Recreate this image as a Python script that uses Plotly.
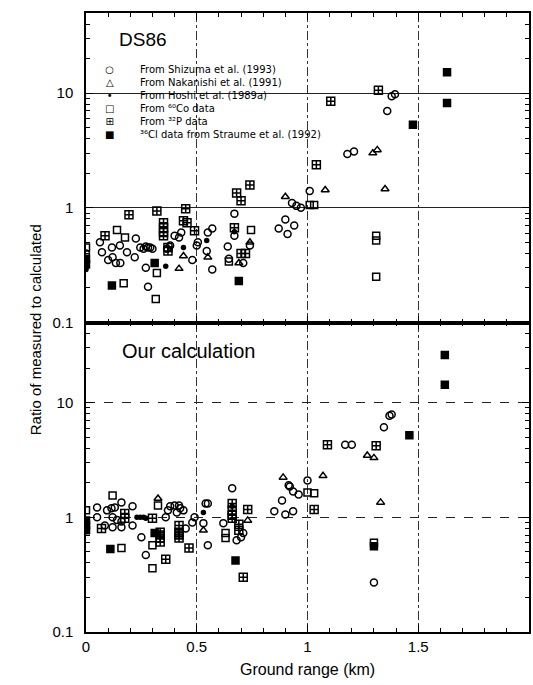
import math
import plotly.graph_objects as go
from plotly.subplots import make_subplots

# ---------------- DATA ----------------
# Top panel: DS86  (x = ground range km, y = ratio measured/calculated)
ds_shiz_x = [0.0, 0.063, 0.072, 0.10, 0.117, 0.12, 0.135, 0.153, 0.155, 0.185, 0.22, 0.225, 0.245, 0.26,
             0.27, 0.28, 0.29, 0.30, 0.27, 0.28, 0.366, 0.38, 0.40, 0.42, 0.43, 0.48, 0.50, 0.505,
             0.57, 0.55, 0.545, 0.57, 0.64, 0.645, 0.67, 0.67, 0.74, 0.71, 0.90, 0.87, 0.94, 0.91,
             0.93, 0.95, 0.97, 1.01, 1.18, 1.21, 1.36, 1.38, 1.395]
ds_shiz_y = [0.40, 0.50, 0.41, 0.35, 0.45, 0.37, 0.33, 0.47, 0.33, 0.41, 0.37, 0.54, 0.45, 0.44,
             0.46, 0.45, 0.45, 0.44, 0.30, 0.205, 0.44, 0.47, 0.57, 0.55, 0.61, 0.35, 0.47, 0.50,
             0.66, 0.61, 0.42, 0.29, 0.46, 0.36, 0.89, 0.57, 0.47, 0.33, 0.79, 0.66, 0.70, 0.59,
             1.10, 1.04, 1.00, 1.40, 2.95, 3.10, 7.0, 9.4, 9.8]
ds_naka_x = [0.42, 0.44, 0.55, 0.69, 0.74, 0.90, 1.08, 1.295, 1.315, 1.35]
ds_naka_y = [0.295, 0.38, 0.37, 0.33, 0.50, 1.25, 1.43, 3.0, 3.2, 1.46]
ds_hoshi_x = [0.0, 0.36, 0.44, 0.545, 0.67]
ds_hoshi_y = [0.29, 0.31, 0.45, 0.52, 0.62]
ds_co_x = [0.0, 0.14, 0.176, 0.17, 0.315, 0.32, 0.645, 0.745, 1.01, 1.03, 1.31, 1.31, 1.31]
ds_co_y = [0.45, 0.64, 0.55, 0.22, 0.16, 0.27, 0.34, 0.64, 1.06, 1.06, 0.57, 0.52, 0.25]
ds_p_x = [0.086, 0.194, 0.32, 0.45, 0.35, 0.35, 0.35, 0.35, 0.44, 0.456, 0.49, 0.37, 0.37,
          0.68, 0.70, 0.74, 0.67, 0.70, 0.72, 1.04, 1.105, 1.32]
ds_p_y = [0.57, 0.87, 0.94, 0.98, 0.74, 0.67, 0.61, 0.57, 0.77, 0.74, 0.63, 0.45, 0.42,
          1.35, 1.15, 1.58, 0.67, 0.40, 0.40, 2.37, 8.5, 10.6]
ds_cl_x = [0.0, 0.0, 0.117, 0.31, 0.69, 1.476, 1.63, 1.63]
ds_cl_y = [0.36, 0.32, 0.21, 0.33, 0.23, 5.3, 15.2, 8.2]

# Bottom panel: our calculation
oc_shiz_x = [0.05, 0.05, 0.095, 0.115, 0.13, 0.16, 0.12, 0.14, 0.16, 0.085, 0.12, 0.16, 0.21, 0.21,
             0.36, 0.37, 0.38, 0.40, 0.42, 0.44, 0.25, 0.27, 0.45, 0.48, 0.49, 0.41, 0.425, 0.54,
             0.55, 0.53, 0.55, 0.62, 0.66, 0.68, 0.71, 0.70, 0.85, 0.90, 0.935, 0.885, 0.915, 0.935,
             0.96, 0.92, 1.0, 1.17, 1.20, 1.345, 1.37, 1.38, 1.30]
oc_shiz_y = [1.22, 1.0, 1.15, 1.20, 1.22, 1.35, 1.0, 0.95, 0.92, 0.85, 0.82, 0.82, 1.25, 0.85,
             1.0, 1.15, 1.25, 1.27, 1.27, 1.15, 0.67, 0.47, 0.80, 0.90, 1.0, 1.10, 1.20, 1.32,
             1.32, 0.89, 0.57, 0.89, 1.79, 0.63, 0.73, 0.67, 1.13, 1.06, 1.13, 1.40, 1.90, 1.68,
             1.58, 1.86, 2.10, 4.3, 4.3, 6.1, 7.7, 7.9, 0.27]
oc_naka_x = [0.325, 0.53, 0.73, 0.89, 1.07, 1.27, 1.30, 1.33]
oc_naka_y = [1.46, 0.77, 0.94, 2.23, 2.30, 3.46, 3.30, 1.35]
oc_hoshi_x = [0.23, 0.245, 0.26, 0.27, 0.53, 0.66]
oc_hoshi_y = [1.0, 1.0, 1.0, 0.98, 1.10, 1.25]
oc_co_x = [0.0, 0.12, 0.325, 0.30, 0.30, 0.16, 0.63, 0.63, 1.0, 1.03, 1.30]
oc_co_y = [1.15, 1.55, 1.27, 0.57, 0.36, 0.54, 0.73, 0.66, 1.65, 1.62, 0.60]
oc_p_x = [0.07, 0.175, 0.175, 0.30, 0.335, 0.335, 0.335, 0.335, 0.36, 0.42, 0.42, 0.42, 0.42,
          0.465, 0.66, 0.66, 0.66, 0.66, 0.73, 0.69, 0.69, 0.71, 1.03, 1.09, 1.31]
oc_p_y = [0.80, 1.08, 0.98, 0.98, 0.74, 0.70, 0.66, 0.61, 0.43, 0.85, 0.74, 0.70, 0.66,
          0.54, 1.32, 1.15, 1.04, 0.98, 1.17, 0.87, 0.77, 0.30, 1.17, 4.3, 4.2]
oc_cl_x = [0.0, 0.0, 0.0, 0.11, 0.31, 0.675, 1.30, 1.46, 1.62, 1.62]
oc_cl_y = [0.94, 0.85, 0.77, 0.53, 0.73, 0.42, 0.56, 5.2, 26.1, 14.3]

legend_labels = ["From Shizuma et al. (1993)", "From Nakanishi et al. (1991)",
                 "From Hoshi et al. (1989a)", "From \u2076\u2070Co data", "From \u00b3\u00b2P data",
                 "\u00b3\u2076Cl data from Straume et al. (1992)"]
legend_glyphs = ["\u25cb", "\u25b3", "\u2022", "\u25a1", "\u229e", "\u25a0"]
x_ticks = [0, 0.5, 1, 1.5, 2]
x_ticktext = ["0", "0.5", "1", "1.5", "2"]
y_ticks = [0.1, 1, 10]
y_ticktext = ["0.1", "1", "10"]

# ---------------- FIGURE ----------------
FONT = "Liberation Sans, Arial, sans-serif"
fig = make_subplots(rows=2, cols=1, shared_xaxes=True, vertical_spacing=0)

symbols = ["circle-open", "triangle-up-open", "circle", "square-open", "square-cross-open", "square"]
sizes = [7, 7, 4, 7, 8, 7]
panels = [
    [(ds_shiz_x, ds_shiz_y), (ds_naka_x, ds_naka_y), (ds_hoshi_x, ds_hoshi_y),
     (ds_co_x, ds_co_y), (ds_p_x, ds_p_y), (ds_cl_x, ds_cl_y)],
    [(oc_shiz_x, oc_shiz_y), (oc_naka_x, oc_naka_y), (oc_hoshi_x, oc_hoshi_y),
     (oc_co_x, oc_co_y), (oc_p_x, oc_p_y), (oc_cl_x, oc_cl_y)],
]
for r, series in enumerate(panels, start=1):
    for i, (xs, ys) in enumerate(series):
        fig.add_trace(go.Scatter(
            x=xs, y=ys, mode="markers", name=legend_labels[i], showlegend=False,
            marker=dict(symbol=symbols[i], size=sizes[i], color="black",
                        line=dict(color="black", width=1.5)),
        ), row=r, col=1)

x_minor = [round(0.1 * k, 1) for k in range(1, 20) if k % 5 != 0]
y_minor = [m * 10 ** e for e in (-1, 0, 1) for m in range(2, 10) if m * 10 ** e <= 50]

for r in (1, 2):
    fig.update_xaxes(
        range=[0, 2], tickmode="array", tickvals=x_ticks, ticktext=x_ticktext,
        ticks="inside", ticklen=7, tickwidth=1, tickcolor="black",
        showline=True, linecolor="black", linewidth=1.5, mirror="allticks",
        showgrid=True, gridcolor="#333", gridwidth=1, griddash="dashdot",
        zeroline=False, showticklabels=(r == 2),
        tickfont=dict(family=FONT, size=15, color="black"),
        minor=dict(tickmode="array", tickvals=x_minor, ticks="inside", ticklen=4,
                   tickcolor="black", showgrid=False),
        row=r, col=1)
    fig.update_yaxes(
        type="log", range=[-1, math.log10(50)], tickmode="array",
        tickvals=y_ticks, ticktext=y_ticktext,
        ticks="inside", ticklen=7, tickwidth=1, tickcolor="black",
        showline=True, linecolor="black", linewidth=1.5, mirror="allticks",
        showgrid=True, gridcolor="#222", gridwidth=1.2,
        griddash="solid" if r == 1 else "dash",
        zeroline=False, ticklabelstandoff=8,
        tickfont=dict(family=FONT, size=15, color="black"),
        minor=dict(tickmode="array", tickvals=y_minor, ticks="inside", ticklen=4,
                   tickcolor="black", showgrid=False),
        row=r, col=1)

W, H = 533, 685
L, R, T, B = 86, 2, 13, 53
pw, ph = W - L - R, H - T - B


def px(xp):
    return (xp - L) / pw


def py(yp):
    return (H - B - yp) / ph


ann = []
ann.append(dict(text="DS86", x=px(117), y=py(40), xref="paper", yref="paper",
                xanchor="left", yanchor="middle", showarrow=False,
                font=dict(family=FONT, size=19, color="black")))
ann.append(dict(text="Our calculation", x=px(120), y=py(351), xref="paper", yref="paper",
                xanchor="left", yanchor="middle", showarrow=False,
                font=dict(family=FONT, size=20, color="black")))
# legend block (two multi-line annotations: glyph column and label column)
ann.append(dict(text="<br>".join(legend_glyphs), x=px(110), y=py(62), xref="paper", yref="paper",
                xanchor="center", yanchor="top", align="center", showarrow=False,
                font=dict(family="DejaVu Sans", size=10, color="black")))
ann.append(dict(text="<br>".join(legend_labels), x=px(138), y=py(62), xref="paper", yref="paper",
                xanchor="left", yanchor="top", align="left", showarrow=False,
                font=dict(family="DejaVu Sans", size=10, color="black")))
ann.append(dict(text="Ratio of measured to calculated", x=px(35), y=py(330),
                xref="paper", yref="paper", textangle=-90, showarrow=False,
                xanchor="center", yanchor="middle",
                font=dict(family=FONT, size=15, color="black")))
ann.append(dict(text="Ground range (km)", x=px(308), y=py(669),
                xref="paper", yref="paper", showarrow=False,
                xanchor="center", yanchor="middle",
                font=dict(family=FONT, size=16, color="black")))

fig.update_layout(
    width=W, height=H, margin=dict(l=L, r=R, t=T, b=B),
    paper_bgcolor="white", plot_bgcolor="white", showlegend=False,
    annotations=ann, font=dict(family=FONT, color="black"),
)

fig.write_html("out.html")
